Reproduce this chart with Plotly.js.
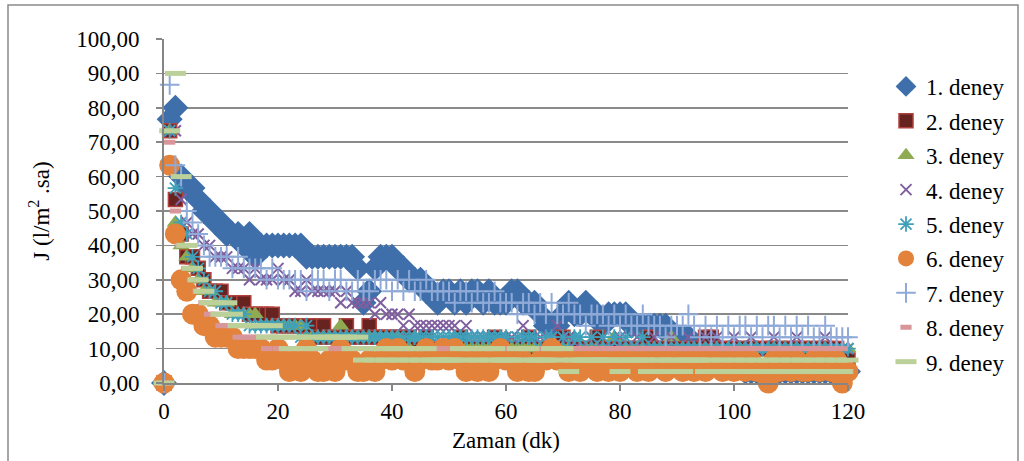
<!DOCTYPE html>
<html>
<head>
<meta charset="utf-8">
<script src="https://cdn.plot.ly/plotly-3.0.1.min.js"></script>
<style>
html,body{margin:0;padding:0;background:#fff;}
#chart{width:1024px;height:461px;}
</style>
</head>
<body>
<div id="chart"></div>
<script>
// Time (minutes)
const zaman = [0,1,2,3,4,5,6,7,8,9,10,11,12,13,14,15,16,17,18,19,20,21,22,23,24,25,26,27,28,29,30,31,32,33,34,35,36,37,38,39,40,41,42,43,44,45,46,47,48,49,50,51,52,53,54,55,56,57,58,59,60,61,62,63,64,65,66,67,68,69,70,71,72,73,74,75,76,77,78,79,80,81,82,83,84,85,86,87,88,89,90,91,92,93,94,95,96,97,98,99,100,101,102,103,104,105,106,107,108,109,110,111,112,113,114,115,116,117,118,119,120];

const deney1 = [0,76.67,80,60,56.67,56.67,53.33,50,50,46.67,
46.67,43.33,43.33,43.33,40,43.33,36.67,40,40,40,
40,40,40,40,40,36.67,36.67,36.67,36.67,36.67,
36.67,36.67,36.67,36.67,33.33,23.33,26.67,33.33,36.67,36.67,
36.67,33.33,33.33,30,30,30,26.67,26.67,23.33,26.67,
26.67,23.33,26.67,23.33,26.67,26.67,23.33,26.67,23.33,23.33,
23.33,26.67,26.67,23.33,23.33,23.33,20,16.67,16.67,16.67,
20,23.33,20,20,23.33,20,20,16.67,20,20,
20,20,16.67,16.67,16.67,16.67,16.67,16.67,16.67,13.33,
13.33,13.33,13.33,10,10,10,10,6.67,6.67,6.67,
6.67,6.67,3.33,3.33,3.33,3.33,3.33,3.33,3.33,3.33,
3.33,3.33,3.33,3.33,3.33,3.33,3.33,3.33,3.33,3.33,3.33];

const deney2 = [0,73.33,53.33,43.33,36.67,36.67,33.33,30,26.67,26.67,
26.67,23.33,23.33,23.33,23.33,20,20,20,20,20,
16.67,16.67,16.67,16.67,16.67,16.67,16.67,13.33,16.67,13.33,
13.33,13.33,16.67,13.33,13.33,13.33,16.67,13.33,13.33,13.33,
13.33,13.33,13.33,13.33,10,10,13.33,10,10,10,
10,10,13.33,10,10,10,10,10,13.33,10,
10,10,10,10,13.33,10,10,10,10,10,
13.33,10,10,10,10,10,13.33,10,10,10,
10,10,10,10,10,13.33,10,10,10,10,
10,10,10,10,10,13.33,13.33,10,10,10,
10,10,10,10,10,10,10,10,10,10,
10,10,10,10,10,10,10,10,10,6.67,6.67];

const deney3 = [0,73.33,46.67,40,36.67,33.33,30,26.67,26.67,23.33,
23.33,23.33,20,20,20,20,20,16.67,16.67,16.67,
16.67,16.67,16.67,16.67,16.67,13.33,13.33,13.33,13.33,13.33,
13.33,16.67,13.33,13.33,13.33,13.33,13.33,13.33,13.33,13.33,
13.33,13.33,10,10,13.33,10,10,10,10,10,
10,13.33,10,10,10,10,10,10,10,10,
13.33,10,10,10,10,10,10,10,10,10,
10,10,13.33,10,10,10,10,10,10,13.33,
10,10,10,10,10,10,10,10,10,13.33,
10,10,10,10,10,10,10,10,10,10,
10,10,10,10,10,10,10,10,10,10,
10,10,10,10,10,10,10,10,10,10,10];

const deney4 = [0,73.33,73.33,53.33,46.67,43.33,43.33,40,40,36.67,
36.67,36.67,33.33,33.33,33.33,30,33.33,30,30,30,
33.33,30,30,26.67,26.67,30,26.67,26.67,26.67,26.67,
26.67,23.33,26.67,23.33,23.33,23.33,23.33,20,23.33,20,
20,20,16.67,20,16.67,16.67,16.67,16.67,16.67,16.67,
16.67,16.67,13.33,16.67,13.33,13.33,13.33,13.33,13.33,13.33,
13.33,13.33,13.33,16.67,13.33,13.33,13.33,10,13.33,16.67,
13.33,13.33,10,10,10,13.33,10,10,10,10,
13.33,10,10,13.33,10,10,13.33,10,10,13.33,
10,10,13.33,10,10,13.33,10,13.33,10,10,
13.33,10,10,13.33,10,10,10,13.33,10,10,
10,13.33,10,10,10,10,13.33,10,10,10,10];

const deney5 = [0,73.33,56.67,46.67,43.33,36.67,33.33,30,26.67,26.67,
23.33,23.33,20,20,20,16.67,16.67,16.67,16.67,16.67,
16.67,16.67,16.67,16.67,13.33,16.67,13.33,13.33,13.33,13.33,
13.33,13.33,13.33,13.33,13.33,13.33,13.33,13.33,13.33,13.33,
13.33,13.33,13.33,13.33,13.33,13.33,13.33,13.33,13.33,13.33,
13.33,13.33,13.33,13.33,13.33,13.33,13.33,13.33,13.33,13.33,
13.33,6.67,13.33,13.33,13.33,13.33,10,13.33,13.33,10,
13.33,10,13.33,13.33,10,13.33,10,13.33,10,13.33,
10,13.33,10,10,13.33,10,10,10,10,10,
10,10,10,10,10,10,10,10,10,10,
10,10,10,10,10,10,10,10,10,10,
10,10,10,10,10,10,10,10,10,10,10];

const deney6 = [0,63.33,43.33,30,26.67,20,20,16.67,16.67,13.33,
13.33,13.33,13.33,10,10,10,10,10,6.67,6.67,
10,6.67,3.33,6.67,3.33,10,6.67,3.33,3.33,6.67,
3.33,10,6.67,6.67,3.33,3.33,6.67,3.33,6.67,10,
6.67,10,6.67,6.67,3.33,6.67,10,6.67,6.67,10,
6.67,10,6.67,3.33,6.67,3.33,6.67,3.33,6.67,10,
6.67,6.67,3.33,6.67,3.33,3.33,6.67,6.67,10,6.67,
6.67,3.33,6.67,3.33,6.67,6.67,3.33,6.67,3.33,6.67,
3.33,6.67,6.67,3.33,6.67,3.33,6.67,6.67,3.33,6.67,
6.67,3.33,6.67,3.33,6.67,3.33,6.67,6.67,3.33,6.67,
3.33,6.67,3.33,6.67,3.33,3.33,0,6.67,3.33,6.67,
3.33,6.67,3.33,3.33,6.67,3.33,6.67,3.33,6.67,0,3.33];

const deney7 = [0,86.67,63.33,60,50,46.67,43.33,40,36.67,36.67,
36.67,36.67,33.33,36.67,33.33,33.33,33.33,33.33,30,33.33,
30,30,30,30,30,26.67,30,30,30,26.67,
30,30,26.67,26.67,30,26.67,26.67,30,30,30,
26.67,30,26.67,30,26.67,26.67,30,26.67,26.67,26.67,
26.67,23.33,26.67,26.67,23.33,26.67,23.33,23.33,26.67,23.33,
23.33,23.33,20,23.33,23.33,20,23.33,20,23.33,20,
20,23.33,20,20,16.67,20,20,20,16.67,20,
16.67,20,16.67,16.67,20,16.67,16.67,16.67,13.33,16.67,
16.67,16.67,20,16.67,13.33,16.67,13.33,16.67,13.33,16.67,
13.33,16.67,16.67,13.33,16.67,13.33,16.67,16.67,13.33,16.67,
13.33,16.67,13.33,16.67,13.33,13.33,16.67,13.33,13.33,13.33,13.33];

const deney8 = [0,70,50,40,33.33,30,26.67,23.33,20,20,
16.67,16.67,16.67,13.33,13.33,13.33,13.33,13.33,10,13.33,
10,10,10,10,10,10,10,10,10,10,
10,10,10,10,10,10,10,10,10,10,
10,10,10,10,10,10,10,10,10,10,
6.67,10,10,10,10,10,10,10,10,10,
10,10,10,10,10,10,10,10,10,10,
10,10,10,10,10,10,10,10,10,10,
10,10,10,10,10,10,10,10,10,10,
10,10,10,10,10,10,10,10,10,10,
10,10,10,10,10,10,10,10,10,10,
10,10,10,10,10,10,10,10,10,10,3.33];

const deney9 = [0,73.33,90,60,40,33.33,30,26.67,23.33,23.33,
20,23.33,20,16.67,16.67,16.67,16.67,16.67,13.33,16.67,
13.33,13.33,10,13.33,13.33,10,13.33,10,13.33,13.33,
13.33,13.33,13.33,10,13.33,6.67,10,6.67,10,6.67,
10,6.67,10,6.67,10,6.67,10,6.67,6.67,6.67,
6.67,6.67,10,6.67,10,6.67,10,6.67,10,6.67,
6.67,6.67,10,6.67,10,6.67,6.67,6.67,10,6.67,
10,3.33,6.67,6.67,6.67,6.67,6.67,6.67,6.67,6.67,
3.33,6.67,6.67,6.67,6.67,3.33,6.67,6.67,3.33,6.67,
6.67,3.33,6.67,6.67,6.67,3.33,6.67,3.33,6.67,3.33,
6.67,3.33,6.67,3.33,6.67,3.33,6.67,3.33,6.67,3.33,
6.67,3.33,6.67,3.33,6.67,3.33,6.67,3.33,6.67,3.33,6.67];

const seriesNames = ["1. deney","2. deney","3. deney","4. deney","5. deney","6. deney","7. deney","8. deney","9. deney"];
const seriesValues = [deney1,deney2,deney3,deney4,deney5,deney6,deney7,deney8,deney9];
const yTicks = [0,10,20,30,40,50,60,70,80,90,100];
const xTicks = [0,20,40,60,80,100,120];

const markerStyles = [
  {symbol:'diamond', size:20, color:'#3F6FAA', line:{width:0}},
  {symbol:'square', size:14, color:'#66231F', line:{width:1.5, color:'#B0413D'}},
  {symbol:'triangle-up', size:15, color:'#8EAA52', line:{width:0}},
  {symbol:'x-thin-open', size:11, color:'#7F5F9E', line:{width:2, color:'#7F5F9E'}},
  {symbol:'asterisk-open', size:13, color:'#40A0BA', line:{width:1.8, color:'#40A0BA'}},
  {symbol:'circle', size:21, color:'#E3823A', line:{width:0}},
  {symbol:'cross-thin-open', size:14, color:'#8FAAD8', line:{width:2, color:'#8FAAD8'}},
  {symbol:'line-ew-open', size:8, color:'#D9969A', line:{width:5, color:'#D9969A'}},
  {symbol:'line-ew-open', size:15, color:'#BCD19A', line:{width:5, color:'#BCD19A'}}
];

const traces = seriesValues.map((vals, i) => ({
  type:'scatter', mode:'markers', name: seriesNames[i],
  x: zaman, y: vals, cliponaxis:false,
  marker: markerStyles[i], legendgroup: 'g'+i
}));

const px = p => (p-164)/684;
const py = p => (383-p)/344;
const serif = 'Liberation Serif, Times New Roman, serif';
const FS = 23;

const layout = {
  width:1024, height:461,
  margin:{l:164, r:176, t:39, b:78},
  paper_bgcolor:'#fff', plot_bgcolor:'#fff',
  separators:',.',
  font:{family:serif, size:FS, color:'#000'},
  showlegend:true,
  hovermode:false,
  xaxis:{
    range:[0,120], tickvals:xTicks, ticktext:xTicks.map(String),
    showgrid:false, zeroline:false,
    showline:true, linecolor:'#868686', linewidth:2,
    ticks:'outside', ticklen:6, tickcolor:'#868686', tickwidth:1.5,
    tickfont:{family:serif, size:FS, color:'#000'},
    title:{text:'Zaman (dk)', font:{family:serif, size:FS, color:'#000'}, standoff:9}
  },
  yaxis:{
    range:[0,100], tickvals:yTicks, tickformat:'.2f',
    showgrid:true, gridcolor:'#8A8A8A', gridwidth:1.5,
    zeroline:false,
    showline:true, linecolor:'#868686', linewidth:2,
    ticks:'outside', ticklen:6, tickcolor:'#868686', tickwidth:1.5,
    ticklabelstandoff:12,
    tickfont:{family:serif, size:FS, color:'#000'},
    title:{text:'J (l/m<sup>2</sup> .sa)', font:{family:serif, size:FS, color:'#000'}, standoff:20}
  },
  legend:{
    x:px(886), y:py(65), xanchor:'left', yanchor:'top',
    font:{family:serif, size:FS, color:'#000'}, itemwidth:30, tracegroupgap:1.5,
    bgcolor:'rgba(0,0,0,0)'
  },
  shapes:[{
    type:'rect', xref:'paper', yref:'paper',
    x0:px(8), x1:px(1018), y0:py(475), y1:py(5),
    line:{color:'#8A8A8A', width:1.5}, fillcolor:'rgba(0,0,0,0)', layer:'below'
  }]
};

Plotly.newPlot('chart', traces, layout, {displayModeBar:false, staticPlot:true});
</script>
</body>
</html>
